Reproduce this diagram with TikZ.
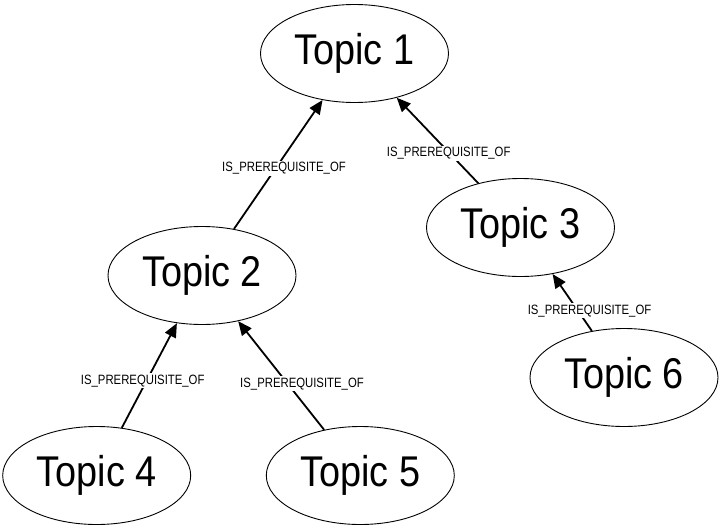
\documentclass[tikz,border=0pt]{standalone}
\usepackage{fontspec}
\usepackage{tikz}
\usetikzlibrary{arrows.meta}
\usetikzlibrary{shapes.geometric}
\newfontfamily\topicfont[FakeStretch=0.88]{Liberation Sans}
\newfontfamily\labelfont[FakeStretch=0.84]{Liberation Sans}

\tikzset{
  topic/.style={draw=black, line width=0.9pt, ellipse, inner sep=0pt,
    minimum width=188pt, minimum height=98pt,
    font=\topicfont\fontsize{43}{50}\selectfont},
  prereq/.style={line width=1.8pt, -{Triangle[length=14pt,width=12pt]}},
  edgelabel/.style={fill=white, inner sep=1.5pt, anchor=base,
    font=\labelfont\fontsize{13.5}{16}\selectfont}
}

\begin{document}
\begin{tikzpicture}[x=1pt,y=-1pt]
          \useasboundingbox (0,0) rectangle (720,530);

          \node [topic] (topic1) at (354.5,53.5) {Topic 1}; % Draws an ellipse

          \node [topic] (topic2) at (202,275.5) {Topic 2}; % Draws an ellipse
          \node [topic] (topic3) at (520.5,227.5) {Topic 3}; % Draws an ellipse

          \node [topic] (topic4) at (96.7,475.5) {Topic 4}; % Draws an ellipse
          \node [topic] (topic5) at (360.3,475.5) {Topic 5}; % Draws an ellipse
          \node [topic] (topic6) at (624,377.5) {Topic 6}; % Draws an ellipse

          \draw [prereq] (topic2) to (topic1);
          \draw [prereq] (topic3) to (topic1);

          \draw [prereq] (topic4) to (topic2);
          \draw [prereq] (topic5) to (topic2);

          \draw [prereq] (topic6) to (topic3);

          \node [edgelabel] (label21) at (284,171.7) {IS\_PREREQUISITE\_OF};
          \node [edgelabel] (label31) at (448.7,156.7) {IS\_PREREQUISITE\_OF};
          \node [edgelabel] (label42) at (142.7,384) {IS\_PREREQUISITE\_OF};
          \node [edgelabel] (label52) at (302,387.3) {IS\_PREREQUISITE\_OF};
          \node [edgelabel] (label63) at (589.5,314.3) {IS\_PREREQUISITE\_OF};
        \end{tikzpicture}
\end{document}
